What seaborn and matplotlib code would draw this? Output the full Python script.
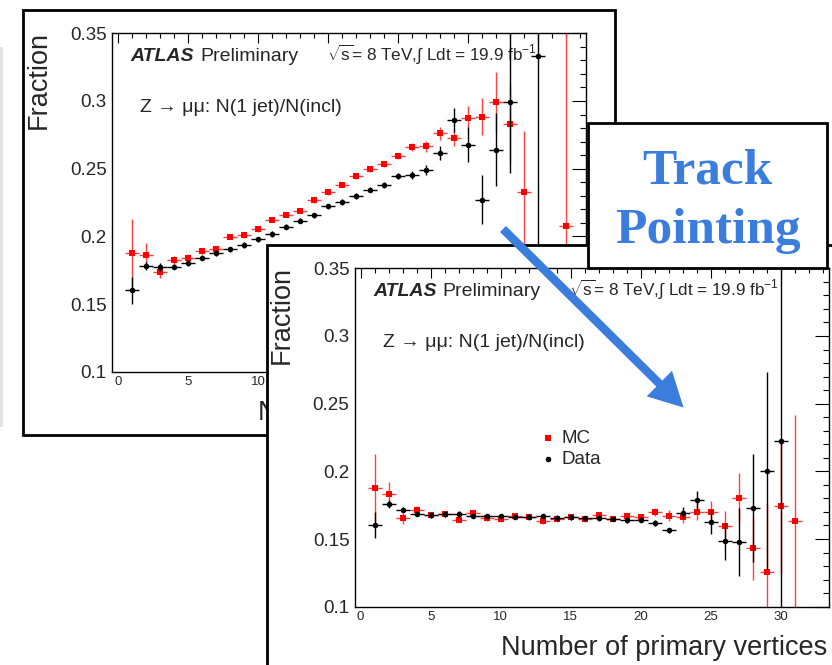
import matplotlib
matplotlib.use("Agg")
import matplotlib.pyplot as plt
import matplotlib.patches as patches
from matplotlib.ticker import MultipleLocator
import seaborn as sns

# --- values ---
# left panel (before track pointing)
nvtx_before_mc = [1, 2, 3, 4, 5, 6, 7, 8, 9, 10, 11, 12, 13, 14, 15, 16, 17, 18, 19, 20,
                  21, 22, 23, 24, 25, 26, 27, 28, 29, 32]
frac_before_mc = [0.188, 0.186, 0.1735, 0.1822, 0.1840, 0.1892, 0.1910, 0.1998, 0.2009, 0.2053,
                  0.2123, 0.2161, 0.2189, 0.2268, 0.2326, 0.2382, 0.2443, 0.2497, 0.2534, 0.2590,
                  0.2659, 0.2664, 0.2760, 0.2726, 0.2871, 0.2885, 0.2991, 0.2831, 0.2325, 0.2077]
err_before_mc = [0.025, 0.009, 0.004, 0.003, 0.003, 0.002, 0.002, 0.002, 0.002, 0.002,
                 0.002, 0.002, 0.002, 0.002, 0.002, 0.002, 0.002, 0.002, 0.002, 0.002,
                 0.003, 0.004, 0.005, 0.006, 0.009, 0.014, 0.022, 0.030, 0.045, 0.150]

nvtx_before_data = [1, 2, 3, 4, 5, 6, 7, 8, 9, 10, 11, 12, 13, 14, 15, 16, 17, 18, 19, 20,
                    21, 22, 23, 24, 25, 26, 27, 28, 30]
frac_before_data = [0.160, 0.1783, 0.1776, 0.1776, 0.1803, 0.1842, 0.1876, 0.1904, 0.1936, 0.1978,
                    0.2016, 0.2071, 0.2115, 0.2155, 0.2221, 0.2254, 0.2298, 0.2344, 0.2379, 0.2445,
                    0.2455, 0.2490, 0.2617, 0.2861, 0.2676, 0.2271, 0.2640, 0.2989, 0.3335]
err_before_data = [0.010, 0.003, 0.003, 0.002, 0.002, 0.002, 0.002, 0.002, 0.002, 0.002,
                   0.002, 0.002, 0.002, 0.002, 0.002, 0.002, 0.002, 0.002, 0.002, 0.002,
                   0.003, 0.004, 0.005, 0.009, 0.013, 0.018, 0.027, 0.052, 0.250]

# right panel (after track pointing)
nvtx_after_mc = list(range(1, 32))
frac_after_mc = [0.188, 0.183, 0.1653, 0.1712, 0.1676, 0.1683, 0.1644, 0.1695, 0.1653, 0.1646,
                 0.1668, 0.1663, 0.1634, 0.1646, 0.1663, 0.1648, 0.1676, 0.1651, 0.1673, 0.1663,
                 0.1698, 0.1673, 0.1666, 0.1703, 0.1703, 0.1595, 0.1806, 0.1430, 0.1256, 0.1747,
                 0.1634]
err_after_mc = [0.025, 0.009, 0.004, 0.003, 0.002, 0.002, 0.002, 0.002, 0.002, 0.002,
                0.002, 0.002, 0.002, 0.002, 0.002, 0.002, 0.002, 0.002, 0.002, 0.002,
                0.003, 0.004, 0.005, 0.006, 0.008, 0.011, 0.018, 0.023, 0.050, 0.050,
                0.078]

nvtx_after_data = list(range(1, 31))
frac_after_data = [0.1602, 0.1757, 0.1717, 0.1688, 0.1678, 0.1683, 0.1685, 0.1673, 0.1668, 0.1668,
                   0.1666, 0.1666, 0.1668, 0.1656, 0.1661, 0.1653, 0.1656, 0.1651, 0.1641, 0.1644,
                   0.1617, 0.1565, 0.1693, 0.1787, 0.1627, 0.1482, 0.1477, 0.1728, 0.2005, 0.2226]
err_after_data = [0.0095, 0.003, 0.002, 0.002, 0.002, 0.002, 0.002, 0.002, 0.002, 0.002,
                  0.002, 0.002, 0.002, 0.002, 0.002, 0.002, 0.002, 0.002, 0.002, 0.002,
                  0.002, 0.002, 0.004, 0.007, 0.009, 0.0135, 0.025, 0.040, 0.073, 0.200]

y_ticks = [0.1, 0.15, 0.2, 0.25, 0.3, 0.35]
y_tick_labels = ["0.1", "0.15", "0.2", "0.25", "0.3", "0.35"]
x_ticks = [0, 5, 10, 15, 20, 25, 30]
x_tick_labels = ["0", "5", "10", "15", "20", "25", "30"]

# --- style ---
sns.set_style("white")
plt.rcParams['font.family'] = ['Liberation Sans', 'DejaVu Sans']
plt.rcParams['mathtext.fontset'] = 'custom'
plt.rcParams['mathtext.rm'] = 'Liberation Sans'
plt.rcParams['mathtext.it'] = 'Liberation Sans:italic'
plt.rcParams['mathtext.bf'] = 'Liberation Sans:bold'

BLUE = "#3b7ddd"
MC_BAR = "#ff4040"
W, H = 832, 665

fig = plt.figure(figsize=(8.32, 6.65), dpi=100)


def px_rect(left, top, width, height):
    return [left / W, 1 - (top + height) / H, width / W, height / H]


def overlay(z):
    a = fig.add_axes([0, 0, 1, 1], zorder=z)
    a.set_xlim(0, W)
    a.set_ylim(H, 0)
    a.axis('off')
    return a


def draw_panel(ax, x_mc, y_mc, e_mc, x_d, y_d, e_d, show_legend):
    ax.errorbar(x_mc, y_mc, xerr=0.5, yerr=e_mc, fmt='none', ecolor=MC_BAR,
                elinewidth=1.0, capsize=0, zorder=2)
    sns.scatterplot(x=x_mc, y=y_mc, marker='s', color='red', s=24, linewidth=0,
                    ax=ax, label='MC', legend=False, zorder=3)
    ax.errorbar(x_d, y_d, xerr=0.5, yerr=e_d, fmt='none', ecolor='black',
                elinewidth=1.0, capsize=0, zorder=4)
    sns.scatterplot(x=x_d, y=y_d, marker='o', color='black', s=16, linewidth=0,
                    ax=ax, label='Data', legend=False, zorder=5)

    ax.set_xlim(-0.4, 33.45)
    ax.set_ylim(0.1, 0.35)
    ax.set_xticks(x_ticks)
    ax.set_xticklabels(x_tick_labels)
    ax.set_yticks(y_ticks)
    ax.set_yticklabels(y_tick_labels)
    ax.xaxis.set_minor_locator(MultipleLocator(1))
    ax.yaxis.set_minor_locator(MultipleLocator(0.01))
    ax.tick_params(which='both', direction='in', top=True, right=True, width=0.8, color='black')
    ax.tick_params(axis='y', which='major', length=10, labelsize=13.5, pad=4)
    ax.tick_params(axis='y', which='minor', length=4.5)
    ax.tick_params(axis='x', which='major', length=7, labelsize=9.5, pad=3)
    ax.tick_params(axis='x', which='minor', length=3.3)
    for sp in ax.spines.values():
        sp.set_linewidth(1.0)
        sp.set_color('black')
    ax.set_xlabel('')
    ax.set_ylabel('')

    ax.text(0.0386, 0.917, "ATLAS", transform=ax.transAxes, fontsize=14,
            fontweight='bold', fontstyle='italic', va='baseline')
    ax.text(0.185, 0.917, "Preliminary", transform=ax.transAxes, fontsize=14, va='baseline')
    ax.text(0.452, 0.917, r"$\sqrt{\mathrm{s}}$= 8 TeV,$\int$ Ldt = 19.9 fb$^{-1}$",
            transform=ax.transAxes, fontsize=12.3, va='baseline')
    ax.text(0.0585, 0.766, "Z → μμ: N(1 jet)/N(incl)", transform=ax.transAxes,
            fontsize=14, va='baseline')
    ax.text(-0.155, 1.006, "Fraction", transform=ax.transAxes, fontsize=19.5,
            rotation=90, ha='center', va='top')
    ax.text(0.9965, -0.143, "Number of primary vertices", transform=ax.transAxes,
            fontsize=19.5, ha='right', va='baseline')

    if show_legend:
        ax.legend(loc='upper left', bbox_to_anchor=(0.3945, 0.522), frameon=False,
                  fontsize=13.5, handlelength=0.6, handletextpad=0.45,
                  labelspacing=0.21, borderpad=0, borderaxespad=0)


# background strip and first frame
bg = overlay(0)
bg.add_patch(patches.Rectangle((0, 47), 3, 380, facecolor='#e3e3e3', edgecolor='none'))
bg.add_patch(patches.Rectangle((22.5, 10), 592.5, 425, facecolor='white',
                               edgecolor='black', linewidth=2.0))

ax1 = fig.add_axes(px_rect(112.3, 33.3, 474, 338.4), zorder=1)
draw_panel(ax1, nvtx_before_mc, frac_before_mc, err_before_mc,
           nvtx_before_data, frac_before_data, err_before_data, False)

mid = overlay(2)
mid.add_patch(patches.Rectangle((267, 245), 600, 450, facecolor='white',
                                edgecolor='black', linewidth=2.0))

ax2 = fig.add_axes(px_rect(355, 268.3, 474, 338.4), zorder=3)
draw_panel(ax2, nvtx_after_mc, frac_after_mc, err_after_mc,
           nvtx_after_data, frac_after_data, err_after_data, True)

# label box and arrow on top
top = overlay(4)
top.add_patch(patches.Rectangle((588, 122.7), 238.7, 145.6, facecolor='white',
                                edgecolor='black', linewidth=2.0))
top.text(707.5, 184, "Track", ha='center', va='baseline', fontsize=37,
         fontfamily='Liberation Serif', fontweight='bold', color=BLUE)
top.text(707.5, 243.3, "Pointing", ha='center', va='baseline', fontsize=37,
         fontfamily='Liberation Serif', fontweight='bold', color=BLUE)
top.add_patch(patches.FancyArrow(503, 229, 180.5, 178.5, width=8.5, head_width=36,
                                 head_length=34, length_includes_head=True,
                                 facecolor=BLUE, edgecolor='none'))

fig.savefig("out.png", dpi=100)
